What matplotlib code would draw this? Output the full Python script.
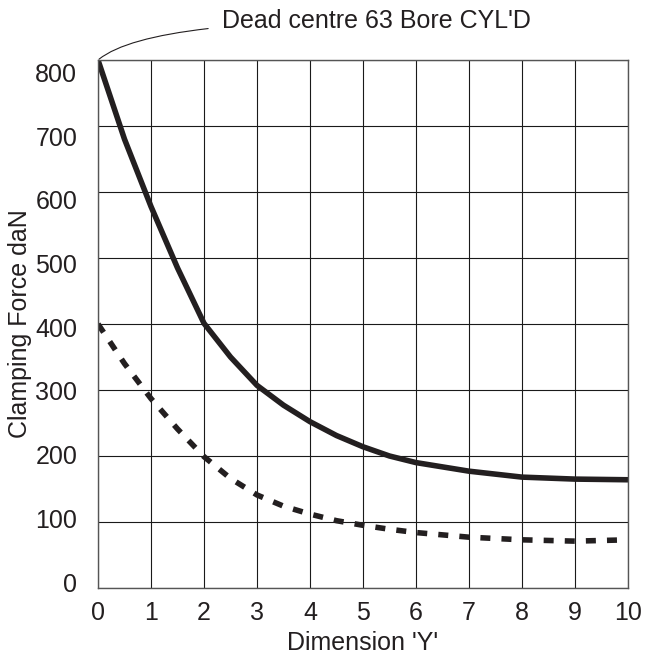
import matplotlib
matplotlib.use('Agg')
import matplotlib.pyplot as plt
from matplotlib.transforms import ScaledTranslation

plt.rcParams['font.family'] = ['Liberation Sans', 'DejaVu Sans']

# Readings taken off the chart
solid_x = [0, 0.5, 1, 1.5, 2, 2.5, 3, 3.5, 4, 4.5, 5, 5.5, 6, 7, 8, 9, 10]
solid_force = [800, 680, 578, 485, 401, 350, 307, 277, 252, 231, 214, 200, 190, 177, 168, 165, 164]

dashed_x = [0, 0.5, 1, 1.5, 2, 2.5, 3, 3.5, 4, 4.5, 5, 5.5, 6, 7, 8, 9, 10]
dashed_force = [400, 340, 287, 241, 199, 166, 141, 124, 112, 102, 95, 89, 84, 77, 73, 71, 73]

x_ticks = list(range(0, 11))
y_ticks = list(range(0, 801, 100))

ink = '#231f20'
fs = 18

fig = plt.figure(figsize=(6.45, 6.61), dpi=100)
ax = fig.add_axes([98/645, 1 - 588/661, 530/645, 528/661])

ax.plot(solid_x, solid_force, color=ink, lw=4.0, solid_capstyle='butt', solid_joinstyle='round')
dash_line, = ax.plot(dashed_x, dashed_force, color=ink, lw=4.0, dash_capstyle='butt')
dash_line.set_dashes((1.8, 2.0))

ax.set_xlim(0, 10)
ax.set_ylim(0, 800)
ax.set_xticks(x_ticks)
ax.set_yticks(y_ticks)
ax.grid(True, color='#1a1a1a', lw=0.8)
ax.set_axisbelow(True)
for s in ax.spines.values():
    s.set_color('#555555')
    s.set_linewidth(1.0)

ax.tick_params(length=0, labelsize=fs, colors=ink)
ax.tick_params(axis='y', pad=15)
ax.tick_params(axis='x', pad=9)
# the printed y labels sit a little off their grid lines
for v, lab in zip(y_ticks, ax.get_yticklabels()):
    off = -6 + 2.3 * v / 100
    lab.set_transform(lab.get_transform() + ScaledTranslation(0, -off / 100, fig.dpi_scale_trans))

ax.set_xlabel("Dimension 'Y'", fontsize=fs, color=ink, va='center')
ax.xaxis.set_label_coords(0.5, (588 - 643) / 528)
ax.set_ylabel('Clamping Force daN', fontsize=fs, color=ink, va='center')
ax.yaxis.set_label_coords((20 - 98) / 530, 0.5)

ax.annotate("Dead centre 63 Bore CYL'D", xy=(0, 800), xycoords='data',
            xytext=(222/645, 1 - 21/661), textcoords='figure fraction',
            ha='left', va='center', fontsize=fs, color=ink,
            arrowprops=dict(arrowstyle='-', color=ink, lw=0.8, shrinkA=8, shrinkB=1,
                            connectionstyle='angle3,angleA=0,angleB=40'),
            annotation_clip=False)

fig.savefig('out.png', dpi=100)
